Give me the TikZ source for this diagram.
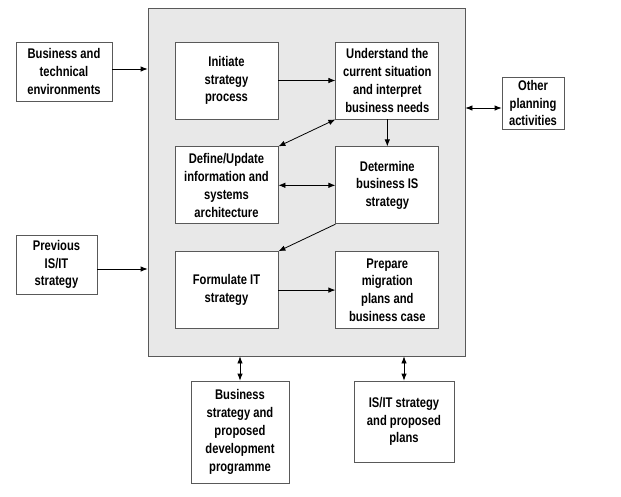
\documentclass[tikz,border=0pt]{standalone}
\usepackage{fontspec}
\setmainfont{Liberation Sans}[FakeStretch=0.8]
\usetikzlibrary{arrows.meta,positioning}
\tikzstyle{frame} = [rectangle,
                    minimum width=317pt,
                    minimum height=348pt,
                    draw=black!65,
                    fill=black!9]
\tikzstyle{stage} = [rectangle,
                    minimum width=103pt,
                    minimum height=77pt,
                    inner sep=1pt,
                    align = center,
                    draw=black!65,
                    fill=white]
\tikzstyle{source} = [rectangle,
                    inner sep=1pt,
                    align = center,
                    draw=black!65,
                    fill=white]
\tikzstyle{plan} = [x=1pt, y=1pt,
                   node distance=27pt and 57pt,
                   font=\bfseries\fontsize{14}{17.8}\selectfont,
                   line width=0.8pt,
                   >={Latex[length=7pt,width=5.5pt]}]

\begin{document}
\begin{tikzpicture}[plan]
    \useasboundingbox (0,0) rectangle (621,-496);
    \node (0) at (306.5,-182) [frame] {};
    \node (1) at (226.5,-80.5) [stage] {Initiate\\strategy\\process};
    \node (2) [right =of 1] [stage] {Understand the\\current situation\\and interpret\\business needs};
    \node (3) [below =of 1] [stage] {Define/Update\\information and\\systems\\architecture};
    \node (4) [below =of 2] [stage] {Determine\\business IS\\strategy};
    \node (5) [below =of 3] [stage] {Formulate IT\\strategy};
    \node (6) [below =of 4] [stage] {Prepare\\migration\\plans and\\business case};
    \node (7) at (64,-71.5) [source, minimum width=96pt, minimum height=59pt] {Business and\\technical\\environments};
    \node (8) at (56.5,-264.5) [source, minimum width=81pt, minimum height=59pt] {Previous\\IS/IT\\strategy};
    \node (9) at (533,-103) [source, minimum width=62pt, minimum height=52pt] {Other\\planning\\activities};
    \node (10) at (240,-432) [source, minimum width=98pt, minimum height=102pt] {Business\\strategy and\\proposed\\development\\programme};
    \node (11) at (404,-421.5) [source, minimum width=100pt, minimum height=81pt] {IS/IT strategy\\and proposed\\plans};
    \coordinate (7a) at ([yshift=2.5pt]7.east);
    \coordinate (8a) at ([yshift=-4.5pt]8.east);
    \coordinate (9a) at ([yshift=-5pt]9.west);
    \path[->]
      (7a) edge (7a -| 0.west)
      (8a) edge (8a -| 0.west)
      (1) edge (2)
      (2) edge (4)
      (2.south west) edge [<->] (3.north east)
      (3) edge [<->] (4)
      (4.south west) edge (5.north east)
      (5) edge (6)
      (9a) edge [<->] (9a -| 0.east)
      (10) edge [<->] (10 |- 0.south)
      (11) edge [<->] (11 |- 0.south);

  \end{tikzpicture}
\end{document}
